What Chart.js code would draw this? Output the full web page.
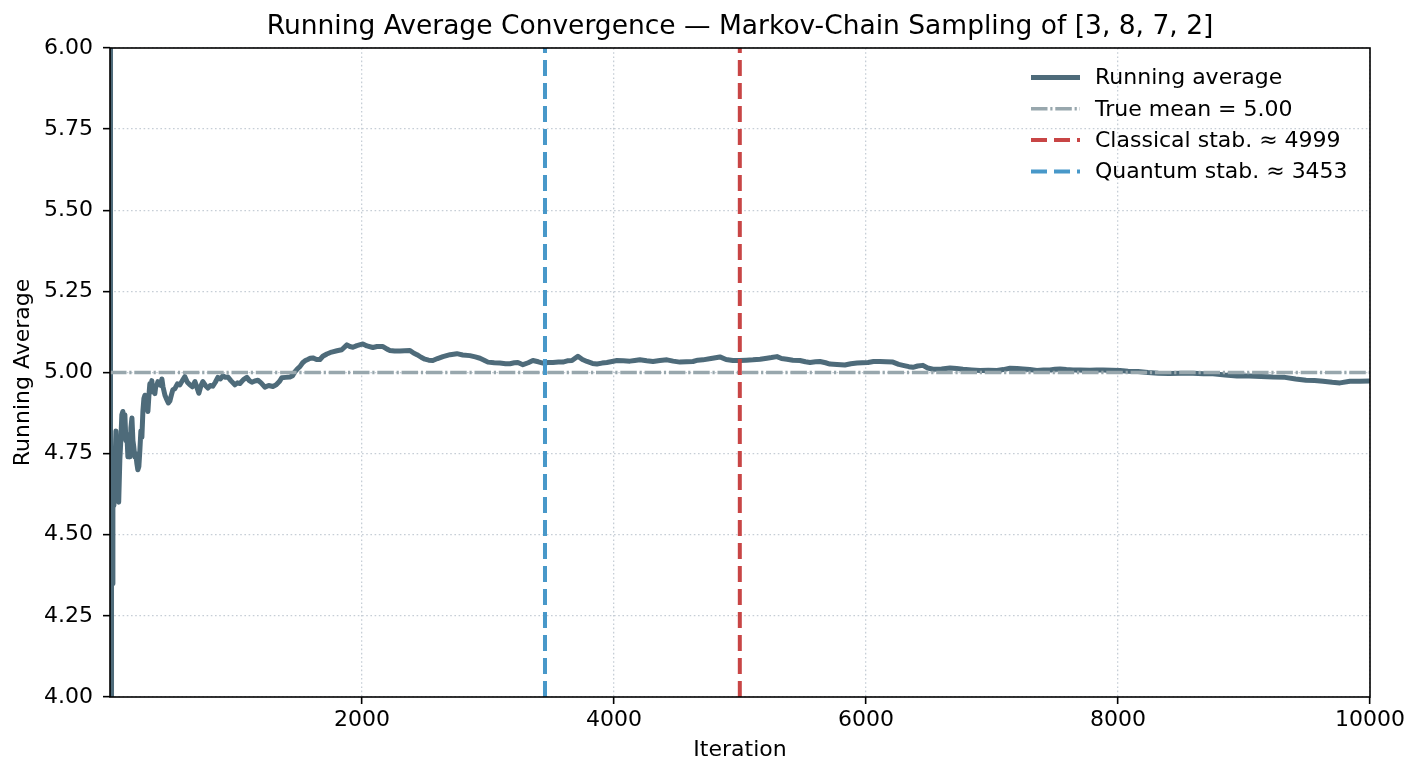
<!DOCTYPE html>
<html>
<head>
<meta charset="utf-8">
<title>Running Average Convergence</title>
<script src="https://cdn.jsdelivr.net/npm/chart.js@4.4.1/dist/chart.umd.min.js"></script>
<style>
  html, body { margin: 0; padding: 0; background: #ffffff; }
  #wrap { width: 1422px; height: 777px; }
</style>
</head>
<body>
<div id="wrap"><canvas id="myChart" width="1422" height="777"></canvas></div>
<script>
'use strict';
// data
let iterations = [
  1, 2, 3, 4, 5, 6, 7, 8, 9, 10,
  12, 14, 16, 20, 24, 28, 32, 36, 40, 48,
  56, 63, 70, 79, 88, 95, 103, 111, 119, 127,
  135, 143, 151, 159, 167, 175, 183, 190, 198, 206,
  214, 222, 230, 238, 246, 254, 262, 270, 278, 286,
  294, 302, 310, 317, 325, 333, 341, 349, 357, 365,
  373, 381, 389, 397, 405, 413, 421, 437, 452, 464,
  476, 488, 500, 516, 536, 556, 575, 595, 615, 635,
  655, 675, 690, 706, 722, 738, 758, 778, 797, 817,
  837, 857, 877, 897, 917, 937, 960, 992, 1012, 1032,
  1060, 1087, 1107, 1127, 1150, 1175, 1200, 1230, 1260, 1294,
  1320, 1345, 1365, 1395, 1429, 1450, 1468, 1490, 1508, 1530,
  1548, 1570, 1590, 1611, 1640, 1667, 1690, 1722, 1760, 1802,
  1840, 1881, 1905, 1929, 1960, 2008, 2040, 2087, 2120, 2167,
  2200, 2222, 2260, 2302, 2340, 2381, 2410, 2437, 2470, 2500,
  2530, 2563, 2600, 2643, 2700, 2754, 2800, 2857, 2900, 2937,
  2970, 3000, 3050, 3095, 3140, 3175, 3210, 3238, 3278, 3320,
  3357, 3400, 3437, 3480, 3516, 3560, 3595, 3630, 3667, 3714,
  3750, 3786, 3830, 3865, 3905, 3944, 3985, 4024, 4075, 4127,
  4165, 4206, 4260, 4310, 4365, 4421, 4470, 4524, 4575, 4627,
  4665, 4706, 4770, 4841, 4890, 4944, 5000, 5050, 5103, 5160,
  5214, 5250, 5294, 5330, 5373, 5420, 5476, 5520, 5556, 5600,
  5635, 5680, 5714, 5770, 5833, 5880, 5929, 5970, 6016, 6060,
  6111, 6160, 6214, 6260, 6294, 6340, 6373, 6410, 6452, 6490,
  6532, 6600, 6667, 6720, 6770, 6840, 6905, 6970, 7040, 7090,
  7143, 7200, 7246, 7300, 7357, 7410, 7460, 7500, 7540, 7590,
  7643, 7700, 7778, 7830, 7881, 7950, 8016, 8080, 8159, 8238,
  8320, 8405, 8500, 8595, 8680, 8754, 8850, 8944, 9040, 9135,
  9230, 9325, 9410, 9492, 9560, 9627, 9700, 9762, 9841, 9920,
  10000
];
let runningAvg = [
  7.00, 5.00, 4.33, 3.75, 4.40, 4.00, 3.86, 4.13, 3.89, 4.20,
  4.00, 4.29, 4.50, 4.35, 4.60, 4.68, 4.59, 4.75, 4.70, 4.82,
  4.72, 4.78, 4.60, 4.73, 4.80, 4.87, 4.88, 4.84, 4.87, 4.79,
  4.81, 4.74, 4.78, 4.74, 4.83, 4.86, 4.79, 4.77, 4.74, 4.75,
  4.72, 4.70, 4.71, 4.76, 4.82, 4.80, 4.88, 4.92, 4.93, 4.90,
  4.915, 4.88, 4.93, 4.965, 4.95, 4.975, 4.94, 4.95, 4.935, 4.96,
  4.96, 4.972, 4.97, 4.972, 4.96, 4.98, 4.957, 4.93, 4.916, 4.906,
  4.912, 4.93, 4.947, 4.95, 4.965, 4.962, 4.975, 4.987, 4.97, 4.962,
  4.956, 4.972, 4.955, 4.936, 4.958, 4.972, 4.96, 4.952, 4.96, 4.958,
  4.97, 4.985, 4.98, 4.99, 4.985, 4.986, 4.975, 4.962, 4.968, 4.966,
  4.978, 4.985, 4.975, 4.97, 4.974, 4.976, 4.968, 4.955, 4.96, 4.957,
  4.962, 4.972, 4.984, 4.985, 4.986, 4.99, 5.002, 5.012, 5.018, 5.03,
  5.036, 5.04, 5.044, 5.045, 5.04, 5.04, 5.05, 5.057, 5.063, 5.067,
  5.07, 5.085, 5.08, 5.078, 5.083, 5.088, 5.082, 5.077, 5.08, 5.08,
  5.072, 5.068, 5.066, 5.066, 5.067, 5.068, 5.06, 5.055, 5.047, 5.041,
  5.038, 5.037, 5.043, 5.049, 5.055, 5.058, 5.054, 5.052, 5.048, 5.044,
  5.038, 5.032, 5.03, 5.029, 5.027, 5.027, 5.03, 5.031, 5.024, 5.03,
  5.037, 5.033, 5.029, 5.031, 5.031, 5.032, 5.032, 5.036, 5.037, 5.05,
  5.04, 5.034, 5.028, 5.026, 5.029, 5.031, 5.034, 5.037, 5.036, 5.035,
  5.037, 5.039, 5.036, 5.034, 5.037, 5.039, 5.035, 5.032, 5.033, 5.034,
  5.038, 5.039, 5.043, 5.048, 5.04, 5.037, 5.037, 5.038, 5.039, 5.041,
  5.044, 5.046, 5.049, 5.043, 5.041, 5.038, 5.037, 5.033, 5.031, 5.033,
  5.034, 5.03, 5.026, 5.025, 5.023, 5.027, 5.029, 5.03, 5.031, 5.034,
  5.034, 5.033, 5.032, 5.025, 5.022, 5.018, 5.016, 5.02, 5.022, 5.014,
  5.01, 5.011, 5.014, 5.012, 5.01, 5.008, 5.006, 5.007, 5.006, 5.009,
  5.013, 5.012, 5.011, 5.009, 5.006, 5.008, 5.008, 5.01, 5.011, 5.009,
  5.008, 5.008, 5.007, 5.008, 5.008, 5.007, 5.006, 5.004, 5.003, 5.0,
  4.998, 4.997, 4.998, 4.998, 4.996, 4.996, 4.992, 4.989, 4.989, 4.988,
  4.986, 4.985, 4.98, 4.976, 4.975, 4.973, 4.97, 4.968, 4.973, 4.973,
  4.974
];
let trueMean = 5.0;
let classicalStab = 4999;
let quantumStab = 3453;
let xRange = [1, 10000];
let yRange = [4, 6];
let xTickValues = [2000, 4000, 6000, 8000, 10000];
let seriesLabels = ['Running average', 'True mean = 5.00', 'Classical stab. \u2248 4999', 'Quantum stab. \u2248 3453'];
let chartTitle = 'Running Average Convergence \u2014 Markov-Chain Sampling of [3, 8, 7, 2]';

Chart.defaults.font.family = "'DejaVu Sans', sans-serif";
Chart.defaults.font.size = 22;
Chart.defaults.color = '#000000';

let chartEl = document.getElementById('myChart');
let ctx = chartEl.getContext('2d');

// frame (all four spines), title and legend drawn on top
const decorPlugin = {
  id: 'decor',
  afterDatasetsDraw(chart) {
    const {ctx, chartArea: a} = chart;
    ctx.save();
    ctx.strokeStyle = '#000000';
    ctx.lineWidth = 1.6;
    ctx.strokeRect(a.left, a.top, a.right - a.left, a.bottom - a.top);
    ctx.restore();
  },
  afterDraw(chart) {
    const {ctx, chartArea: a} = chart;
    ctx.save();
    ctx.fillStyle = '#000000';
    ctx.font = "26.5px 'DejaVu Sans', sans-serif";
    ctx.textAlign = 'center';
    ctx.textBaseline = 'middle';
    ctx.fillText(chartTitle, (a.left + a.right) / 2, 27);

    // legend, top right inside the axes, no frame
    ctx.font = "22px 'DejaVu Sans', sans-serif";
    ctx.textAlign = 'left';
    chart.data.datasets.forEach(function (ds, i) {
      let y = a.top + 29.5 + i * 31.3;
      ctx.save();
      ctx.strokeStyle = ds.borderColor;
      ctx.lineWidth = ds.borderWidth;
      ctx.setLineDash(ds.borderDash || []);
      ctx.beginPath();
      ctx.moveTo(a.right - 339, y);
      ctx.lineTo(a.right - 290, y);
      ctx.stroke();
      ctx.restore();
      ctx.fillText(ds.label, a.right - 275, y + 1);
    });
    ctx.restore();
  }
};

function verticalAt(x) {
  return [{x: x, y: yRange[0]}, {x: x, y: yRange[1]}];
}

new Chart(ctx, {
  type: 'line',
  data: {
    datasets: [{
      label: seriesLabels[0],
      data: iterations.map((it, i) => ({x: it, y: runningAvg[i]})),
      borderColor: '#4e6b7a',
      borderWidth: 5,
      borderJoinStyle: 'round',
      order: 3
    }, {
      label: seriesLabels[1],
      data: [{x: xRange[0], y: trueMean}, {x: xRange[1], y: trueMean}],
      borderColor: '#98a7ad',
      borderWidth: 3.6,
      borderDash: [16.5, 2.8, 2.2, 2.8],
      order: 2
    }, {
      label: seriesLabels[2],
      data: verticalAt(classicalStab),
      borderColor: '#c84545',
      borderWidth: 4,
      borderDash: [16, 7],
      order: 1
    }, {
      label: seriesLabels[3],
      data: verticalAt(quantumStab),
      borderColor: '#4898c9',
      borderWidth: 4,
      borderDash: [16, 7],
      order: 0
    }]
  },
  options: {
    responsive: false,
    animation: false,
    events: [],
    clip: 0,
    elements: {
      point: { radius: 0, hoverRadius: 0 },
      line: { tension: 0, borderCapStyle: 'butt', fill: false }
    },
    layout: { padding: { top: 48, right: 52, left: 0, bottom: 0 } },
    plugins: {
      legend: { display: false },
      title: { display: false },
      tooltip: { enabled: false }
    },
    scales: {
      x: {
        type: 'linear',
        min: xRange[0],
        max: xRange[1],
        afterBuildTicks: function (axis) {
          axis.ticks = xTickValues.map(v => ({value: v}));
        },
        afterFit: function (axis) { axis.height = 80; },
        ticks: {
          autoSkip: false,
          maxRotation: 0,
          padding: 3,
          callback: v => String(v)
        },
        grid: {
          color: '#c6ced6',
          lineWidth: 1.3,
          tickColor: '#000000',
          tickLength: 7,
          tickWidth: 1.6
        },
        border: { display: false, dash: [1.6, 2.6] },
        title: { display: true, text: 'Iteration', padding: { top: 0, bottom: 14 } }
      },
      y: {
        min: yRange[0],
        max: yRange[1],
        afterFit: function (axis) { axis.width = 110; },
        ticks: {
          stepSize: 0.25,
          padding: 10,
          callback: v => v.toFixed(2)
        },
        grid: {
          color: '#c6ced6',
          lineWidth: 1.3,
          tickColor: '#000000',
          tickLength: 7,
          tickWidth: 1.6
        },
        border: { display: false, dash: [1.6, 2.6] },
        title: { display: true, text: 'Running Average', padding: { top: 10, bottom: 0 } }
      }
    }
  },
  plugins: [decorPlugin]
});
</script>
</body>
</html>
